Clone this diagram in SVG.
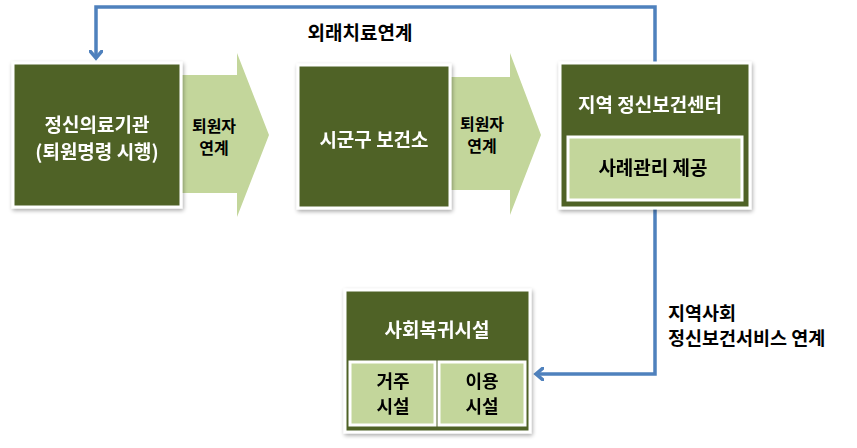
<svg xmlns="http://www.w3.org/2000/svg" width="857" height="448" viewBox="0 0 857 448">
<defs>
<style>
.box{fill:#4F6228;stroke:#FFFFFF;stroke-width:3}
.inner{fill:#C3D69B;stroke:#FFFFFF;stroke-width:3}
.arr{fill:#C3D69B}
.wt{font-family:"Noto Sans CJK KR","Noto Sans",sans-serif;font-weight:bold;fill:#FFFFFF;text-anchor:middle}
.bt{font-family:"Noto Sans CJK KR","Noto Sans",sans-serif;font-weight:bold;fill:#000000;text-anchor:middle}
.lt{font-family:"Noto Sans CJK KR","Noto Sans",sans-serif;font-weight:bold;fill:#000000;text-anchor:start}
.line{fill:none;stroke:#4F81BD;stroke-width:3.5}
</style>
<filter id="sh" x="-10%" y="-10%" width="120%" height="120%">
<feGaussianBlur in="SourceAlpha" stdDeviation="2"/>
<feOffset dx="1" dy="2" result="b"/>
<feComponentTransfer><feFuncA type="linear" slope="0.35"/></feComponentTransfer>
<feMerge><feMergeNode/><feMergeNode in="SourceGraphic"/></feMerge>
</filter>
<marker id="ah" markerWidth="14" markerHeight="14" refX="8" refY="7" orient="auto" markerUnits="userSpaceOnUse">
<path d="M1,1 L8,7 L1,13" fill="none" stroke="#4F81BD" stroke-width="3.5" stroke-linecap="round"/>
</marker>
</defs>

<g id="connectors">
<polyline class="line" points="655,63 655,7 96,7 96,58" marker-end="url(#ah)"/>
<polyline class="line" points="655,208 655,374 536,374" marker-end="url(#ah)"/>
<text class="bt" x="360" y="40" font-size="19">외래치료연계</text>
<text class="lt" x="668" y="320" font-size="18.5">지역사회</text>
<text class="lt" x="668" y="345" font-size="18.5">정신보건서비스 연계</text>
</g>

<g id="arrow1">
<polygon class="arr" points="180,75 237,75 237,53 269,135 237,217 237,193 180,193"/>
<text class="bt" x="214" y="132" font-size="16">퇴원자</text>
<text class="bt" x="214" y="154" font-size="16">연계</text>
</g>

<g id="arrow2">
<polygon class="arr" points="450,77 510,77 510,53 541,135 510,215 510,190 450,190"/>
<text class="bt" x="482" y="130" font-size="16">퇴원자</text>
<text class="bt" x="482" y="152" font-size="16">연계</text>
</g>

<g id="node1" filter="url(#sh)">
<rect class="box" x="13" y="63" width="168" height="144"/>
<text class="wt" x="97" y="132" font-size="19">정신의료기관</text>
<text class="wt" x="97" y="159" font-size="19">(퇴원명령 시행)</text>
</g>

<g id="node2" filter="url(#sh)">
<rect class="box" x="298" y="65" width="152" height="143"/>
<text class="wt" x="374" y="147" font-size="19">시군구 보건소</text>
</g>

<g id="node3" filter="url(#sh)">
<rect class="box" x="560" y="63" width="190" height="145"/>
<text class="wt" x="650" y="112" font-size="19">지역 정신보건센터</text>
<rect class="inner" x="568" y="137" width="174" height="63"/>
<text class="bt" x="653" y="175" font-size="19">사례관리 제공</text>
</g>

<g id="node4" filter="url(#sh)">
<rect class="box" x="345" y="290" width="185" height="142"/>
<text class="wt" x="437" y="337" font-size="19">사회복귀시설</text>
<rect class="inner" x="350" y="362" width="85" height="63"/>
<text class="bt" x="393" y="388" font-size="18">거주</text>
<text class="bt" x="393" y="413" font-size="18">시설</text>
<rect class="inner" x="439" y="362" width="86" height="63"/>
<text class="bt" x="482" y="388" font-size="18">이용</text>
<text class="bt" x="482" y="413" font-size="18">시설</text>
</g>
</svg>
